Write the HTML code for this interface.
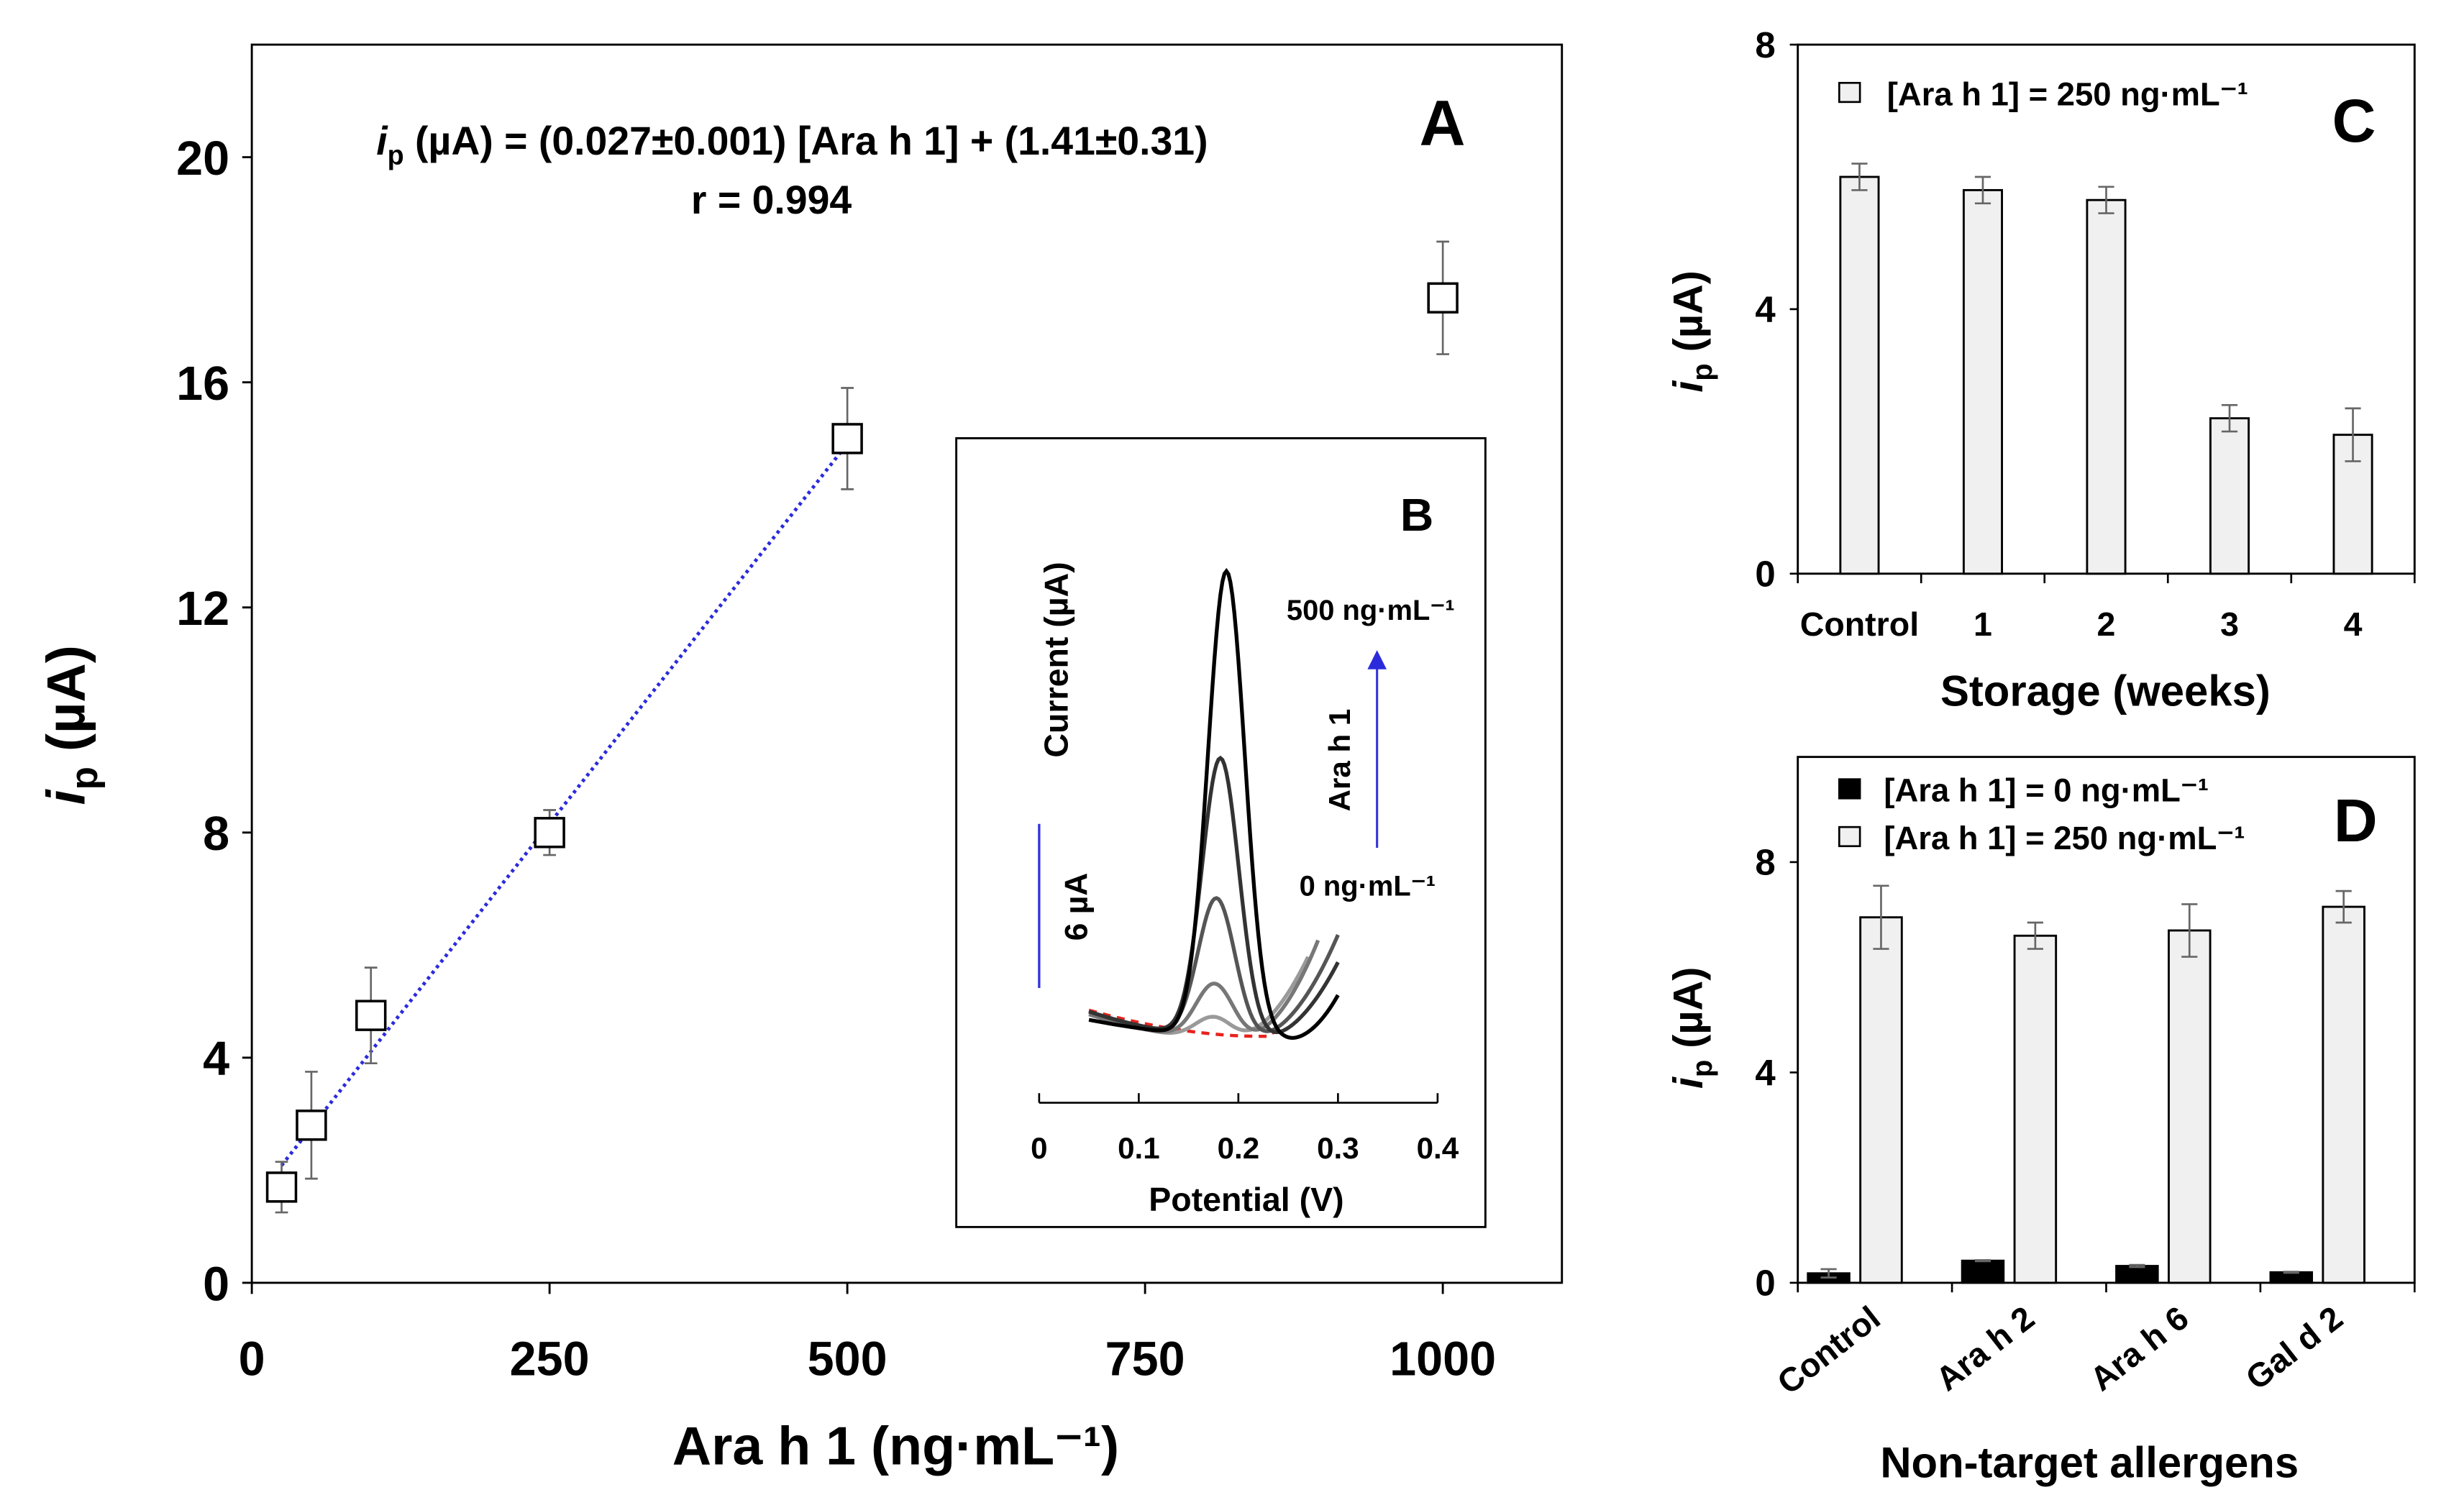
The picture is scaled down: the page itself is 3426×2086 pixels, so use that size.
<!DOCTYPE html>
<html><head><meta charset="utf-8"><style>
html,body{margin:0;padding:0;background:#fff;}
svg{display:block;font-family:"Liberation Sans",sans-serif;font-weight:bold;}
</style></head><body>
<svg id="fig" width="3426" height="2086" viewBox="0 0 1546 941.3" xmlns="http://www.w3.org/2000/svg">
<g id="A"></g>
<g id="B"></g>
<g id="C"></g>
<g id="D"></g>
</svg>
<script>
// ---- Panel A data ----
const aConc = [25, 50, 100, 250, 500, 1000];
const aIp = [1.7, 2.8, 4.75, 8.0, 15.0, 17.5];
const aErr = [0.45, 0.95, 0.85, 0.4, 0.9, 1.0];
const aXTicks = [0, 250, 500, 750, 1000];
const aYTicks = [0, 4, 8, 12, 16, 20];
const aFitSlope = 0.027;
const aFitIntercept = 1.41;
const aFitRange = [25, 500];
// ---- Panel B data ----
const bPeakHeights = [0.8, 2.0, 5.1, 10.2, 17.0];
const bPeakPos = [0.175, 0.176, 0.178, 0.182, 0.188];
const bMinPos = [0.19, 0.2, 0.21, 0.22, 0.25];
const bEndV = [0.27, 0.28, 0.30, 0.30, 0.30];
const bEndRise = [3.0, 3.6, 3.8, 2.8, 1.6];
const bLeftRise = [1.0, 0.9, 1.0, 1.0, 0.7];
const bXTicks = [0, 0.1, 0.2, 0.3, 0.4];
// ---- Panel C data ----
const cCats = ["Control", "1", "2", "3", "4"];
const cVals = [6.0, 5.8, 5.65, 2.35, 2.1];
const cErrs = [0.2, 0.2, 0.2, 0.2, 0.4];
const cYTicks = [0, 4, 8];
// ---- Panel D data ----
const dCats = ["Control", "Ara h 2", "Ara h 6", "Gal d 2"];
const dBlank = [0.18, 0.42, 0.32, 0.2];
const dBlankErr = [0.08, 0.01, 0.02, 0.01];
const dTarget = [6.95, 6.6, 6.7, 7.15];
const dTargetErr = [0.6, 0.25, 0.5, 0.3];
const dYTicks = [0, 4, 8];

const NS = "http://www.w3.org/2000/svg";
function mk(parent, tag, attrs, txt){
  const e = document.createElementNS(NS, tag);
  for (const k in attrs) e.setAttribute(k, attrs[k]);
  if (txt !== undefined) e.textContent = txt;
  parent.appendChild(e);
  return e;
}

// ================= Panel A =================
(function(){
  const g = document.getElementById('A');
  const L=158, R=980, T=28, B=805;
  const xs = v => L + v/1100*(R-L);
  const ys = v => B - v/22*(B-T);
  let f = mk(g,'rect',{x:L,y:T,width:R-L,height:B-T,fill:'none',stroke:'#000','stroke-width':1.3});
   
  aYTicks.forEach(t=>{
    let tk = mk(g,'line',{x1:L-6,x2:L,y1:ys(t),y2:ys(t),stroke:'#000','stroke-width':1.3});
     
    let lb = mk(g,'text',{x:L-14,y:ys(t)+11,'text-anchor':'end','font-size':30},String(t));
     
  });
  aXTicks.forEach(t=>{
    let tk = mk(g,'line',{x1:xs(t),x2:xs(t),y1:B,y2:B+7,stroke:'#000','stroke-width':1.3});
     
    let lb = mk(g,'text',{x:xs(t),y:B+58,'text-anchor':'middle','font-size':30},String(t));
     
  });
  let xt = mk(g,'text',{x:562,y:919,'text-anchor':'middle','font-size':34},'Ara h 1 (ng·mL⁻¹)');
   
  let yt = mk(g,'text',{transform:'translate(53,455) rotate(-90)','text-anchor':'middle','font-size':34});
   
  mk(yt,'tspan',{'font-style':'italic'},'i');
  mk(yt,'tspan',{'font-size':24,dy:8},'p');
  mk(yt,'tspan',{dy:-8},' (µA)');
  let eq = mk(g,'text',{x:497,y:97,'text-anchor':'middle','font-size':25});
   
  mk(eq,'tspan',{'font-style':'italic'},'i');
  mk(eq,'tspan',{'font-size':17,dy:6},'p');
  mk(eq,'tspan',{dy:-6},' (µA) = (0.027±0.001) [Ara h 1] + (1.41±0.31)');
  let rr = mk(g,'text',{x:484,y:134,'text-anchor':'middle','font-size':25},'r = 0.994');
   
  let la = mk(g,'text',{x:905,y:91,'text-anchor':'middle','font-size':40},'A');
   
  let fit = mk(g,'line',{x1:xs(aFitRange[0]),y1:ys(aFitSlope*aFitRange[0]+aFitIntercept),x2:xs(aFitRange[1]),y2:ys(aFitSlope*aFitRange[1]+aFitIntercept),stroke:'#2b2bdc','stroke-width':2.2,'stroke-dasharray':'2 2.5'});
   
  aConc.forEach((c,i)=>{
    const x=xs(c), y=ys(aIp[i]), yt=ys(aIp[i]+aErr[i]), yb=ys(aIp[i]-aErr[i]);
    let eb = mk(g,'path',{d:`M${x},${yt}V${yb}M${x-4},${yt}H${x+4}M${x-4},${yb}H${x+4}`,stroke:'#666','stroke-width':1.2,fill:'none'});
     
    let p = mk(g,'rect',{x:x-9,y:y-9,width:18,height:18,fill:'#fff',stroke:'#000','stroke-width':1.6});
     
  });
})();

// ================= Panel B =================
(function(){
  const g = document.getElementById('B');
  let f = mk(g,'rect',{x:600,y:275,width:332,height:495,fill:'#fff',stroke:'#000','stroke-width':1.3});
   
  const xs = v => 652 + v/0.4*250;
  const baseY = 652, k = 17.2;
  const ys = v => baseY - v*k;
  let ax = mk(g,'line',{x1:652,x2:902,y1:692,y2:692,stroke:'#000','stroke-width':1.2});
   
  bXTicks.forEach(t=>{
    let tk = mk(g,'line',{x1:xs(t),x2:xs(t),y1:686,y2:692,stroke:'#000','stroke-width':1.2});
     
    let lb = mk(g,'text',{x:xs(t),y:727,'text-anchor':'middle','font-size':19},String(t));
     
  });
  let xt = mk(g,'text',{x:782,y:760,'text-anchor':'middle','font-size':21},'Potential (V)');
   
  let yt = mk(g,'text',{transform:'translate(670,414) rotate(-90)','text-anchor':'middle','font-size':21},'Current (µA)');
   
  let sb = mk(g,'line',{x1:652,x2:652,y1:517,y2:620,stroke:'#3333dd','stroke-width':1.5});
   
  let sl = mk(g,'text',{transform:'translate(682,569) rotate(-90)','text-anchor':'middle','font-size':20},'6 µA');
   
  let lb = mk(g,'text',{x:889,y:333,'text-anchor':'middle','font-size':29},'B');
   
  let t1 = mk(g,'text',{x:860,y:389,'text-anchor':'middle','font-size':18},'500 ng·mL⁻¹');
   
  let t0 = mk(g,'text',{x:858,y:562,'text-anchor':'middle','font-size':18},'0 ng·mL⁻¹');
   
  let ar = mk(g,'line',{x1:864,x2:864,y1:532,y2:418,stroke:'#3333dd','stroke-width':1.4});
   
  let ah = mk(g,'polygon',{points:'864,408 858,420 870,420',fill:'#2b2bdc'});
   
  let al = mk(g,'text',{transform:'translate(847,477) rotate(-90)','text-anchor':'middle','font-size':19},'Ara h 1');
   
  let rd = mk(g,'path',{d:`M${xs(0.05)},${ys(1.05)} Q${xs(0.15)},${ys(0.05)} ${xs(0.23)},${ys(0.1)} L${xs(0.245)},${ys(0.5)}`,fill:'none',stroke:'#e8221c','stroke-width':2,'stroke-dasharray':'5 4'});
   
  const cols = ['#9a9a9a','#777','#555','#333','#000'];
  const sig = 0.0185;
  bPeakHeights.forEach((h,i)=>{
    let d='';
    for(let v=0.05; v<=bEndV[i]+1e-9; v+=0.002){
      let bg;
      const m=bMinPos[i];
      if(v<m) bg = bLeftRise[i]*Math.pow((m-v)/(m-0.05),2);
      else bg = bEndRise[i]*Math.pow((v-m)/(bEndV[i]-m),2);
      const val = bg + h*Math.exp(-Math.pow(v-bPeakPos[i],2)/(2*sig*sig));
      d += (d?'L':'M')+xs(v).toFixed(2)+','+ys(val).toFixed(2);
    }
    let c = mk(g,'path',{d:d,fill:'none',stroke:cols[i],'stroke-width':2.4});
     
  });
})();

// ================= Panel C =================
(function(){
  const g = document.getElementById('C');
  const L=1128,R=1515,T=28,B=360;
  const ys = v => B - v/8*(B-T);
  const band = (R-L)/cCats.length;
  let f = mk(g,'rect',{x:L,y:T,width:R-L,height:B-T,fill:'none',stroke:'#000','stroke-width':1.3});
   
  cYTicks.forEach(t=>{
    let tk = mk(g,'line',{x1:L-5,x2:L,y1:ys(t),y2:ys(t),stroke:'#000','stroke-width':1.2});
     
    let lb = mk(g,'text',{x:L-14,y:ys(t)+8,'text-anchor':'end','font-size':23},String(t));
     
  });
  for(let i=0;i<=cCats.length;i++){
    let tk = mk(g,'line',{x1:L+i*band,x2:L+i*band,y1:B,y2:B+6,stroke:'#000','stroke-width':1.2});
     
  }
  cCats.forEach((c,i)=>{
    const cx = L+(i+0.5)*band;
    let bar = mk(g,'rect',{x:cx-12,y:ys(cVals[i]),width:24,height:B-ys(cVals[i]),fill:'#f0f0f0',stroke:'#000','stroke-width':1.3});
     
    const a=ys(cVals[i]+cErrs[i]), b=ys(cVals[i]-cErrs[i]);
    let eb = mk(g,'path',{d:`M${cx},${a}V${b}M${cx-5},${a}H${cx+5}M${cx-5},${b}H${cx+5}`,stroke:'#666','stroke-width':1.2,fill:'none'});
     
    let lb = mk(g,'text',{x:cx,y:399,'text-anchor':'middle','font-size':21},c);
     
  });
  let xt = mk(g,'text',{x:1321,y:443,'text-anchor':'middle','font-size':27},'Storage (weeks)');
   
  let yt = mk(g,'text',{transform:'translate(1068,208) rotate(-90)','text-anchor':'middle','font-size':26});
   
  mk(yt,'tspan',{'font-style':'italic'},'i'); mk(yt,'tspan',{'font-size':18,dy:6},'p'); mk(yt,'tspan',{dy:-6},' (µA)');
  let ls = mk(g,'rect',{x:1154,y:52,width:13,height:12,fill:'#f0f0f0',stroke:'#000','stroke-width':1.2});
   
  let lt = mk(g,'text',{x:1184,y:66,'font-size':20.5},'[Ara h 1] = 250 ng·mL⁻¹');
   
  let pl = mk(g,'text',{x:1477,y:89,'text-anchor':'middle','font-size':38},'C');
   
})();

// ================= Panel D =================
(function(){
  const g = document.getElementById('D');
  const L=1128,R=1515,T=475,B=805;
  const ys = v => B - v/10*(B-T);
  const band = (R-L)/dCats.length;
  let f = mk(g,'rect',{x:L,y:T,width:R-L,height:B-T,fill:'none',stroke:'#000','stroke-width':1.3});
   
  dYTicks.forEach(t=>{
    let tk = mk(g,'line',{x1:L-5,x2:L,y1:ys(t),y2:ys(t),stroke:'#000','stroke-width':1.2});
     
    let lb = mk(g,'text',{x:L-14,y:ys(t)+8,'text-anchor':'end','font-size':23},String(t));
     
  });
  for(let i=0;i<=dCats.length;i++){
    let tk = mk(g,'line',{x1:L+i*band,x2:L+i*band,y1:B,y2:B+6,stroke:'#000','stroke-width':1.2});
     
  }
  function bar(cx,v,e,fill,name){
    let r = mk(g,'rect',{x:cx-13,y:ys(v),width:26,height:B-ys(v),fill:fill,stroke:'#000','stroke-width':1.3});
     
    const a=ys(v+e), b=ys(v-e);
    let eb = mk(g,'path',{d:`M${cx},${a}V${b}M${cx-5},${a}H${cx+5}M${cx-5},${b}H${cx+5}`,stroke:'#666','stroke-width':1.2,fill:'none'});
     
  }
  dCats.forEach((c,i)=>{
    const x0 = L+i*band;
    bar(x0+band*0.2, dBlank[i], dBlankErr[i], '#000', 'bar-blank');
    bar(x0+band*0.54, dTarget[i], dTargetErr[i], '#f0f0f0', 'bar-target');
    const tx = x0+band*0.55, ty = 830;
    let lb = mk(g,'text',{transform:`translate(${tx},${ty}) rotate(-38)`,'text-anchor':'end','font-size':21},c);
     
  });
  let xt = mk(g,'text',{x:1311,y:927,'text-anchor':'middle','font-size':27},'Non-target allergens');
   
  let yt = mk(g,'text',{transform:'translate(1068,645) rotate(-90)','text-anchor':'middle','font-size':26});
   
  mk(yt,'tspan',{'font-style':'italic'},'i'); mk(yt,'tspan',{'font-size':18,dy:6},'p'); mk(yt,'tspan',{dy:-6},' (µA)');
  let s1 = mk(g,'rect',{x:1154,y:489,width:13,height:12,fill:'#000',stroke:'#000','stroke-width':1.2});
   
  let l1 = mk(g,'text',{x:1182,y:503,'font-size':20.5},'[Ara h 1] = 0 ng·mL⁻¹');
   
  let s2 = mk(g,'rect',{x:1154,y:519,width:13,height:12,fill:'#f0f0f0',stroke:'#000','stroke-width':1.2});
   
  let l2 = mk(g,'text',{x:1182,y:533,'font-size':20.5},'[Ara h 1] = 250 ng·mL⁻¹');
   
  let pl = mk(g,'text',{x:1478,y:528,'text-anchor':'middle','font-size':38},'D');
   
})();
</script>
</body></html>
